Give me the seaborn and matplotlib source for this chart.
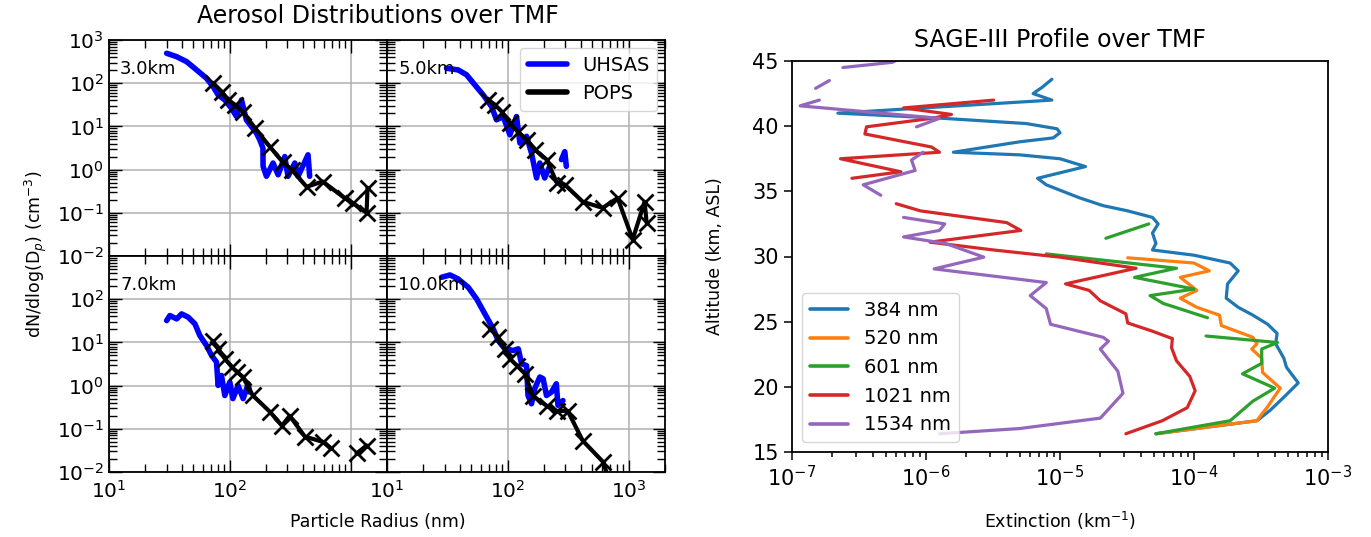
import numpy as np
import pandas as pd
import matplotlib
matplotlib.use("Agg")
import matplotlib.pyplot as plt
from matplotlib.lines import Line2D
from matplotlib.ticker import LogLocator, NullFormatter, FixedLocator, MultipleLocator
import seaborn as sns

# ------------------------------------------------------------------ data
panel_labels = ["3.0km", "5.0km", "7.0km", "10.0km"]

# UHSAS size distributions (radius nm, dN/dlogDp cm^-3); NaN = gap
uhsas_r_3 = [30.0, 36.3, 43.9, 53.1, 64.1, 72.8, 80.0, 90.9, 103, 113.6, 125, 137, 151, 166, 177,
             188, 188.5, 201, 228, 251, 285, 303, 345, 367, 444, 458]
uhsas_n_3 = [493, 411, 315, 203, 130, 83, 53.7, 41, 26.5, 16.9, 41, 14.2, 9.95, 7.0, 4.9,
             3.15, 1.19, 0.70, 1.42, 0.76, 2.0, 0.70, 1.42, 0.70, 2.2, 0.70]
uhsas_r_5 = [31.1, 38.8, 45.6, 53.4, 62.5, 73.3, 80.7, 91.5, 104, 118, 126, 143, 157, 173, 184,
             202, 222, np.nan, 278, 296, 305]
uhsas_n_5 = [222, 203, 156, 91, 53.7, 28.8, 14.2, 16.9, 6.4, 16.9, 4.1, 5.9, 2.4, 0.64, 1.42,
             0.64, 1.19, np.nan, 1.7, 2.6, 1.19]
uhsas_r_7 = [30, 31.9, 36.3, 39.9, 45.2, 51.4, 56.5, 64.1, 70.6, 77.6, 80, 85.3, 90.9, 100, 106,
             117, 129, 142, 146]
uhsas_n_7 = [32, 41.8, 35, 45.7, 38.4, 26.9, 14.4, 8.5, 5.0, 3.5, 1.01, 1.72, 0.59, 1.21, 0.50,
             1.0, 0.50, 1.1, 0.71]
uhsas_r_10 = [28.3, 33.2, 38.8, 47, 55.1, 64.6, 75.7, 83.2, 94.4, 111, 122, 130, 143, 147, 157,
              167, 184, 196, 209, 230, 252, 260, 286]
uhsas_n_10 = [322, 364, 294, 189, 102, 45.7, 20.6, 11.1, 7.1, 6.5, 7.1, 3.2, 2.9, 0.59, 0.38,
              0.85, 1.58, 1.44, 0.59, 0.71, 1.1, 0.35, 0.45]

# POPS size distributions
pops_r_3 = [72.4, 86, 96, 110, 128, 161, 214, 274, 325, 432, 587, 891, 1040, 1355, 1380]
pops_n_3 = [102, 63, 41, 32, 22, 9.3, 3.4, 1.5, 1.0, 0.40, 0.53, 0.22, 0.17, 0.10, 0.38]
pops_r_5 = [68.7, 78, 89, 104, 121, 144, 167, 210, 254, 296, 417, 610, 811, 1080, 1355, 1410]
pops_n_5 = [41, 32, 22, 12, 7.5, 4.9, 2.9, 1.7, 0.5, 0.45, 0.18, 0.13, 0.22, 0.024, 0.18, 0.059]
pops_r_7 = [72, 80, 91, 104, 114, 128, 155, 214, 270, 313, 418, 588, 692, np.nan, 1120, 1360]
pops_n_7 = [10.9, 7.1, 4.2, 2.7, 2.1, 1.6, 0.59, 0.25, 0.118, 0.2, 0.066, 0.05, 0.035, np.nan,
            0.027, 0.041]
pops_r_10 = [71, 83, 94, 104, 119, 138, 161, 210, 254, 313, 417, 610, 700]
pops_n_10 = [20.6, 13.5, 7.1, 4.2, 2.9, 1.9, 0.58, 0.34, 0.26, 0.26, 0.053, 0.0175, 0.006]

# SAGE-III extinction profiles (altitude km, extinction km^-1); NaN = gap
wavelengths = ["384 nm", "520 nm", "601 nm", "1021 nm", "1534 nm"]
alt_384 = [43.6, 43.0, 42.5, 42.0, 41.0, 40.6, 40.2, 39.8, 39.5, 39.1, 38.8, 38.0, 37.8, 37.5,
           36.9, 36.0, 35.5, 35.0, 34.5, 33.9, 33.5, 33.0, 32.5, 31.8, 31.0, 30.5, 30.1, 29.5,
           28.9, 27.9, 26.8, 26.1, 25.5, 24.8, 24.1, 23.3, 22.2, 21.5, 20.3, 19.2, 18.2, 17.4, 16.4]
ext_384 = [8.7e-6, 7.4e-6, 6.3e-6, 8.7e-6, 2.2e-7, 1.35e-6, 5.6e-6, 9.5e-6, 1.0e-5, 8.9e-6,
           5.0e-6, 1.6e-6, 5.0e-6, 1.0e-5, 1.55e-5, 6.8e-6, 7.9e-6, 1.05e-5, 1.4e-5, 2.1e-5,
           3.2e-5, 4.9e-5, 5.4e-5, 4.9e-5, 5.2e-5, 4.9e-5, 1.0e-4, 1.86e-4, 2.14e-4, 1.78e-4,
           1.74e-4, 2.14e-4, 2.75e-4, 3.55e-4, 4.17e-4, 4.07e-4, 4.68e-4, 4.9e-4, 6.0e-4,
           4.68e-4, 3.7e-4, 2.95e-4, 5.2e-5]
alt_520 = [29.9, 29.5, 28.9, 28.4, 27.4, 26.8, 26.1, 25.5, 24.7, 23.8, 23.3, 22.9, 22.2, 21.1,
           19.9, 18.4, 17.9, 17.4, 16.4]
ext_520 = [3.2e-5, 1.0e-4, 1.3e-4, 7.9e-5, 1.05e-4, 7.9e-5, 1.05e-4, 1.55e-4, 1.6e-4, 2.75e-4,
           2.95e-4, 2.7e-4, 3.2e-4, 3.25e-4, 4.4e-4, 3.5e-4, 3.2e-4, 2.95e-4, 5.2e-5]
alt_601 = [32.5, 31.4, np.nan, 30.2, 29.1, 28.4, 27.5, 27.0, 26.4, 25.3, np.nan, 23.9, 23.4,
           22.9, 21.8, 21.0, 19.9, 18.9, 17.4, 16.4]
ext_601 = [4.6e-5, 2.2e-5, np.nan, 7.9e-6, 7.4e-5, 3.6e-5, 1.0e-4, 4.7e-5, 5.9e-5, 1.26e-4,
           np.nan, 1.23e-4, 4.2e-4, 3.2e-4, 3.2e-4, 2.3e-4, 4.0e-4, 2.75e-4, 1.86e-4, 5.2e-5]
alt_1021 = [42.0, 41.4, 40.9, 40.6, 39.95, 39.4, 38.4, 38.0, 37.5, 36.5, 36.0, np.nan, 34.05,
            33.5, 32.6, 32.0, 31.1, 30.5, 29.95, 29.1, 27.9, 27.4, 26.6, 25.6, 24.9, 24.3, 23.7,
            23.0, 22.0, 20.8, 19.7, 18.4, 17.4, 16.4]
ext_1021 = [3.2e-6, 6.8e-7, 1.55e-6, 1.1e-6, 3.6e-7, 3.5e-7, 1.1e-6, 1.26e-6, 2.3e-7, 6.5e-7,
            2.8e-7, np.nan, 6.0e-7, 9.1e-7, 4.0e-6, 5.1e-6, 1.07e-6, 3.2e-6, 1.0e-5, 3.7e-5,
            1.1e-5, 1.65e-5, 2.0e-5, 3.1e-5, 3.2e-5, 4.8e-5, 6.9e-5, 6.8e-5, 7.4e-5, 9.3e-5,
            1.02e-4, 8.9e-5, 5.8e-5, 3.1e-5]
alt_1534 = [45.4, 44.9, 44.5, np.nan, 43.5, 42.9, np.nan, 42.0, 41.56, 40.6, 39.95, np.nan,
            38.0, 37.4, 36.6, 35.5, 34.7, np.nan, 33.0, 32.5, 32.0, 31.5, 31.0, 29.95, 29.05,
            28.0, 27.0, 26.0, 24.8, 23.8, 23.5, 22.9, 21.2, 19.5, 17.6, 16.8, 16.4]
ext_1534 = [7.0e-7, 5.6e-7, 2.4e-7, np.nan, 1.9e-7, 1.5e-7, np.nan, 1.6e-7, 1.15e-7, 1.26e-6,
            8.5e-7, np.nan, 9.5e-7, 7.8e-7, 8.3e-7, 3.4e-7, 4.6e-7, np.nan, 6.8e-7, 1.38e-6,
            1.26e-6, 6.8e-7, 1.4e-6, 2.7e-6, 1.15e-6, 7.9e-6, 6.0e-6, 7.9e-6, 8.5e-6, 2.1e-5,
            2.3e-5, 2.0e-5, 2.7e-5, 2.95e-5, 2.0e-5, 5.0e-6, 1.26e-6]

# ------------------------------------------------------------------ style
sns.set_theme(style="ticks", rc={
    "axes.edgecolor": "black", "xtick.color": "black", "ytick.color": "black",
    "text.color": "black", "axes.labelcolor": "black",
})
plt.rcParams["font.family"] = ["DejaVu Sans"]
plt.rcParams["mathtext.fontset"] = "dejavusans"

W, H = 1371, 537
fig = plt.figure(figsize=(W / 100, H / 100), dpi=100)


def rect(x0, y0, x1, y1):
    return [x0 / W, 1 - y1 / H, (x1 - x0) / W, (y1 - y0) / H]


def frame(x, y):
    df = pd.DataFrame({"x": np.asarray(x, float), "y": np.asarray(y, float)})
    df["seg"] = df["x"].isna().cumsum()
    return df.dropna()


TICK_FS = 14.5
cols = [(109, 387), (387, 665)]
rows = [(40, 256), (256, 472)]
uhsas = [(uhsas_r_3, uhsas_n_3), (uhsas_r_5, uhsas_n_5), (uhsas_r_7, uhsas_n_7), (uhsas_r_10, uhsas_n_10)]
pops = [(pops_r_3, pops_n_3), (pops_r_5, pops_n_5), (pops_r_7, pops_n_7), (pops_r_10, pops_n_10)]

for i in range(4):
    r, c = divmod(i, 2)
    ax = fig.add_axes(rect(cols[c][0], rows[r][0], cols[c][1], rows[r][1]))
    ax.set_xscale("log")
    ax.set_yscale("log")
    du = frame(*uhsas[i])
    sns.lineplot(data=du, x="x", y="y", units="seg", estimator=None, sort=False,
                 color="#0000ff", lw=4, ax=ax, legend=False)
    dp = frame(*pops[i])
    sns.lineplot(data=dp, x="x", y="y", units="seg", estimator=None, sort=False,
                 color="black", lw=3, marker="x", markersize=12,
                 markeredgewidth=2, markeredgecolor="black", ax=ax, legend=False)
    ax.set_xlim(10, 2000)
    ax.set_ylim(1e-2, 1e3)
    ax.set_xlabel("")
    ax.set_ylabel("")
    ax.xaxis.set_major_locator(FixedLocator([10, 100, 1000]))
    ax.xaxis.set_minor_locator(LogLocator(base=10, subs=np.arange(2, 10), numticks=50))
    ax.xaxis.set_minor_formatter(NullFormatter())
    if r == 0:
        ax.yaxis.set_major_locator(FixedLocator([1e-2, 1e-1, 1, 10, 100, 1000]))
    else:
        ax.yaxis.set_major_locator(FixedLocator([1e-2, 1e-1, 1, 10, 100]))
    ax.yaxis.set_minor_locator(LogLocator(base=10, subs=np.arange(2, 10), numticks=50))
    ax.yaxis.set_minor_formatter(NullFormatter())
    ax.grid(True, which="major", color="#b0b0b0", lw=1.1)
    ax.tick_params(which="both", direction="in", top=True, right=True, bottom=True, left=True,
                   labelsize=TICK_FS, width=1)
    ax.tick_params(which="major", length=9)
    ax.tick_params(which="minor", length=5.5)
    ax.tick_params(axis="x", which="major", pad=6)
    for s in ax.spines.values():
        s.set_linewidth(1.3)
    if r == 0:
        ax.tick_params(labelbottom=False)
    else:
        if c == 0:
            ax.set_xticklabels([r"$\mathdefault{10^{1}}$", r"$\mathdefault{10^{2}}$", ""])
    if c == 1:
        ax.tick_params(labelleft=False)
    ax.text(0.04, 0.865, panel_labels[i], transform=ax.transAxes, fontsize=13,
            ha="left", va="center")
    if i == 1:
        handles = [Line2D([], [], color="#0000ff", lw=4), Line2D([], [], color="black", lw=4)]
        ax.legend(handles, ["UHSAS", "POPS"], loc="upper right", fontsize=14,
                  handlelength=2.0, borderaxespad=0.4, fancybox=True, framealpha=0.8)

fig.text(378 / W, 1 - 16 / H, "Aerosol Distributions over TMF", ha="center", va="center",
         fontsize=17)
fig.text(378 / W, 1 - 522 / H, "Particle Radius (nm)", ha="center", va="center", fontsize=12.5)
fig.text(36 / W, 1 - 254 / H, r"dN/dlog(D$_p$) (cm$^{-3}$)", ha="center", va="center",
         rotation=90, fontsize=12.5)

# ------------------------------------------------------------------ SAGE-III panel
axr = fig.add_axes(rect(792, 61, 1328, 452))
axr.set_xscale("log")
sage = [(ext_384, alt_384), (ext_520, alt_520), (ext_601, alt_601),
        (ext_1021, alt_1021), (ext_1534, alt_1534)]
colors = sns.color_palette("tab10", 5)
for (ex, al), col in zip(sage, colors):
    d = frame(ex, al)
    sns.lineplot(data=d, x="x", y="y", units="seg", estimator=None, sort=False,
                 color=col, lw=2.3, ax=axr, legend=False)
axr.set_xlim(1e-7, 1e-3)
axr.set_ylim(15, 45)
axr.set_xlabel("")
axr.set_ylabel("")
axr.yaxis.set_major_locator(MultipleLocator(5))
axr.xaxis.set_major_locator(FixedLocator([1e-7, 1e-6, 1e-5, 1e-4, 1e-3]))
axr.xaxis.set_minor_locator(LogLocator(base=10, subs=np.arange(2, 10), numticks=50))
axr.xaxis.set_minor_formatter(NullFormatter())
axr.tick_params(which="both", direction="out", labelsize=15, width=1.1)
axr.tick_params(which="major", length=6)
axr.tick_params(which="minor", length=3.5)
for s in axr.spines.values():
    s.set_linewidth(1.3)
handles = [Line2D([], [], color=c, lw=2.6) for c in colors]
axr.legend(handles, wavelengths, loc="lower left", fontsize=14, handlelength=2.0,
           borderaxespad=0.5, fancybox=True, framealpha=0.8)
fig.text(1060 / W, 1 - 40 / H, "SAGE-III Profile over TMF", ha="center", va="center",
         fontsize=17)
fig.text(1060 / W, 1 - 521 / H, r"Extinction (km$^{-1}$)", ha="center", va="center",
         fontsize=12.5)
fig.text(715 / W, 1 - 256 / H, "Altitude (km, ASL)", ha="center", va="center",
         rotation=90, fontsize=12.5)

fig.savefig("out.png", dpi=100)
